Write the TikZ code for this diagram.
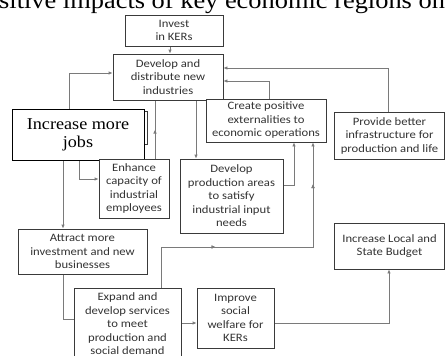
\documentclass[tikz,border=0pt]{standalone}
\usepackage{fontspec}
\setmainfont{Carlito}[FakeStretch=1.12]
\newfontfamily\titlefont{Liberation Serif}[FakeStretch=1.1]
\usetikzlibrary{arrows.meta,decorations.markings,backgrounds}
\definecolor{boxline}{HTML}{3A3A3A}
\definecolor{conline}{HTML}{7A7A7A}
\definecolor{txt}{HTML}{333333}
\tikzset{
  box/.style={draw=boxline,line width=0.8pt,fill=white,rectangle,inner sep=0pt,align=center,
    text=txt,font=\fontsize{11.3}{13.5}\selectfont},
  conn/.style={draw=conline,line width=0.8pt},
  arr/.style={conn,-{Latex[length=4pt,width=3.5pt]}},
  midtip/.style={postaction={decorate},decoration={markings,
    mark=at position #1 with {\arrow{Latex[length=4pt,width=3.5pt]}}}},
}
\begin{document}
\begin{tikzpicture}[x=1pt,y=-1pt]
\useasboundingbox (0,0) rectangle (445,356);
\begin{scope}
\clip (0,0) rectangle (445,356);
\node[anchor=base west,inner sep=0pt,font=\titlefont\fontsize{24}{24}\selectfont] (title) at (-1,8.5) {sitive impacts of key economic regions on};
\end{scope}

% boxes
\node[box,minimum width=98pt,minimum height=31pt] (invest) at (174,30.5) {Invest\\in KERs};
\node[box,minimum width=110pt,minimum height=46pt] (develop) at (168,77) {Develop and\\distribute new\\industries};
\node[box,minimum width=120pt,minimum height=43pt] (create) at (266,120.5) {Create positive\\externalities to\\economic operations};
\node[box,minimum width=110pt,minimum height=47pt] (provide) at (389.5,135.5) {Provide better\\infrastructure for\\production and life};
\node[box,minimum width=133pt,minimum height=33pt] (jobsback) at (80.5,127.5) {};
\node[box,draw=black,text=black,minimum width=132pt,minimum height=51pt,font=\titlefont\fontsize{16.5}{18}\selectfont] (jobs) at (78,134.5) {Increase more\\jobs};
\node[box,minimum width=70pt,minimum height=59pt] (enhance) at (134,188.5) {Enhance\\capacity of\\industrial\\employees};
\node[box,minimum width=103pt,minimum height=74pt] (prodareas) at (231.5,196) {Develop\\production areas\\to satisfy\\industrial input\\needs};
\node[box,minimum width=129pt,minimum height=45pt] (attract) at (82.5,251.5) {Attract more\\investment and new\\businesses};
\node[box,minimum width=107pt,minimum height=72pt] (expand) at (127.5,324) {Expand and\\develop services\\to meet\\production and\\social demand};
\node[box,minimum width=77pt,minimum height=60pt] (improve) at (235.5,318) {Improve\\social\\welfare for\\KERs};
\node[box,minimum width=110pt,minimum height=46pt] (budget) at (389.5,246) {Increase Local and\\State Budget};

% connectors
\begin{scope}[on background layer]
\draw[arr] (invest.south -| 170,0) -- (develop.north -| 170,0);
\draw[arr] (jobs.north -| 69,0) |- (develop.west |- 0,73);
\draw[conn,midtip=0.5] (enhance.north -| 155,0) -- (develop.south -| 155,0);
\draw[arr] (develop.south -| 196,0) -- (prodareas.north -| 196,0);
\draw[arr] (jobs.south -| 79,0) |- (enhance.west |- 0,179);
\draw[arr] (jobs.south -| 63,0) -- (attract.north -| 63,0);
\draw[conn] (attract.south -| 63,0) |- (expand.west |- 0,319);
\draw[arr,midtip=0.32,midtip=0.86] (expand.north -| 161,0) |- (313,247) -- (create.south -| 313,0);
\draw[arr] (prodareas.east |- 0,185) -| (create.south -| 294,0);
\draw[arr] (expand.east |- 0,323) -- (improve.west |- 0,323);
\draw[arr] (improve.east |- 0,323) -| (budget.south -| 389,0);
\draw[arr] (create.north -| 269,0) |- (develop.east |- 0,81);
\draw[arr] (provide.north -| 388,0) |- (develop.east |- 0,68);
\end{scope}
\end{tikzpicture}
\end{document}
